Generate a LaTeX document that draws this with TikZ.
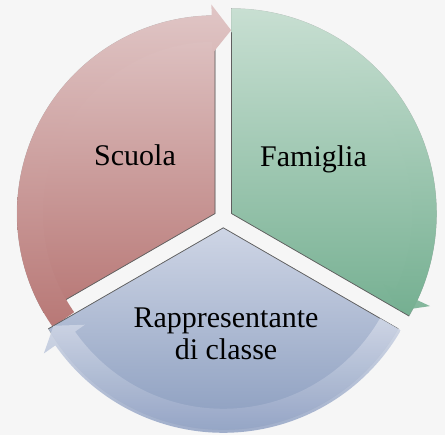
\documentclass[tikz,border=0pt]{standalone}
\usepackage{fontspec}
\setmainfont{Liberation Serif}
\definecolor{redtop}{RGB}{224,198,198}
\definecolor{redbot}{RGB}{184,120,118}
\definecolor{greentop}{RGB}{200,223,210}
\definecolor{greenbot}{RGB}{118,176,146}
\definecolor{bluetop}{RGB}{206,213,229}
\definecolor{bluebot}{RGB}{130,150,186}
\definecolor{bluebandtop}{RGB}{208,215,230}
\definecolor{bluebandbot}{RGB}{150,166,198}
\definecolor{edgecol}{RGB}{95,95,95}
\definecolor{bgcol}{RGB}{246,246,246}
\begin{document}
\begin{tikzpicture}[x=1pt,y=1pt,
  segment/.style={draw=edgecol, draw opacity=0.3, line width=0.5pt, line join=round},
  edgeline/.style={draw=edgecol, line width=0.7pt, line join=round},
  band/.style={fill opacity=0.9},
  lbl/.style={font=\fontsize{30}{32}\selectfont, text=black, inner sep=0pt}]
\fill[bgcol] (0,0) rectangle (445,435);
\useasboundingbox (0,0) rectangle (445,435);
% Scuola segment and arrow
\path[segment, top color=redtop, bottom color=redbot, shift={(215.07,221.45)}]
  (0,0) -- (90:198pt) arc[start angle=90, end angle=210, radius=198pt] -- cycle;
\draw[edgeline, shift={(215.07,221.45)}] (90:198pt) -- (0,0) -- (210:198pt);
\path[band, fill opacity=1, top color=redtop, bottom color=redbot, shift={(215.07,221.45)}]
  (215:172pt) -- (215:198pt) arc[start angle=215, end angle=91, radius=198pt]
  -- (91:209pt) -- (85:184pt) -- (91:160pt) -- (91:172pt)
  arc[start angle=91, end angle=215, radius=172pt] -- cycle;
% Famiglia segment and arrow
\path[segment, top color=greentop, bottom color=greenbot, shift={(231.53,221.45)}]
  (0,0) -- (90:205pt) arc[start angle=90, end angle=-30, radius=205pt] -- cycle;
\draw[edgeline, shift={(231.53,221.45)}] (90:205pt) -- (0,0) -- (-30:205pt);
\path[band, top color=greentop, bottom color=greenbot, shift={(231.53,221.45)}]
  (90:181pt) -- (90:205pt) arc[start angle=90, end angle=-25, radius=205pt]
  -- (-25:219pt) -- (-30:194pt) -- (-25:168pt) -- (-25:181pt)
  arc[start angle=-25, end angle=90, radius=181pt] -- cycle;
% Rappresentante segment and arrow
\path[segment, top color=bluetop, bottom color=bluebot, shift={(223.3,207.2)}]
  (0,0) -- (210:202pt) arc[start angle=210, end angle=330, radius=202pt] -- cycle;
\draw[edgeline, shift={(223.3,207.2)}] (210:202pt) -- (0,0) -- (330:202pt);
\path[band, top color=bluebandtop, bottom color=bluebandbot, shift={(223.3,207.2)}]
  (330:181pt) -- (330:205pt) arc[start angle=330, end angle=215, radius=205pt]
  -- (215:219pt) -- (210:196pt) -- (215:169pt) -- (215:181pt)
  arc[start angle=215, end angle=330, radius=181pt] -- cycle;
% labels
\node[lbl, anchor=base] (scuola) at (135,269) {Scuola};
\node[lbl, anchor=base] (famiglia) at (313.5,268) {Famiglia};
\node[lbl, anchor=base, align=center] (rapp) at (226,75) {Rappresentante\\di classe};
\end{tikzpicture}
\end{document}
